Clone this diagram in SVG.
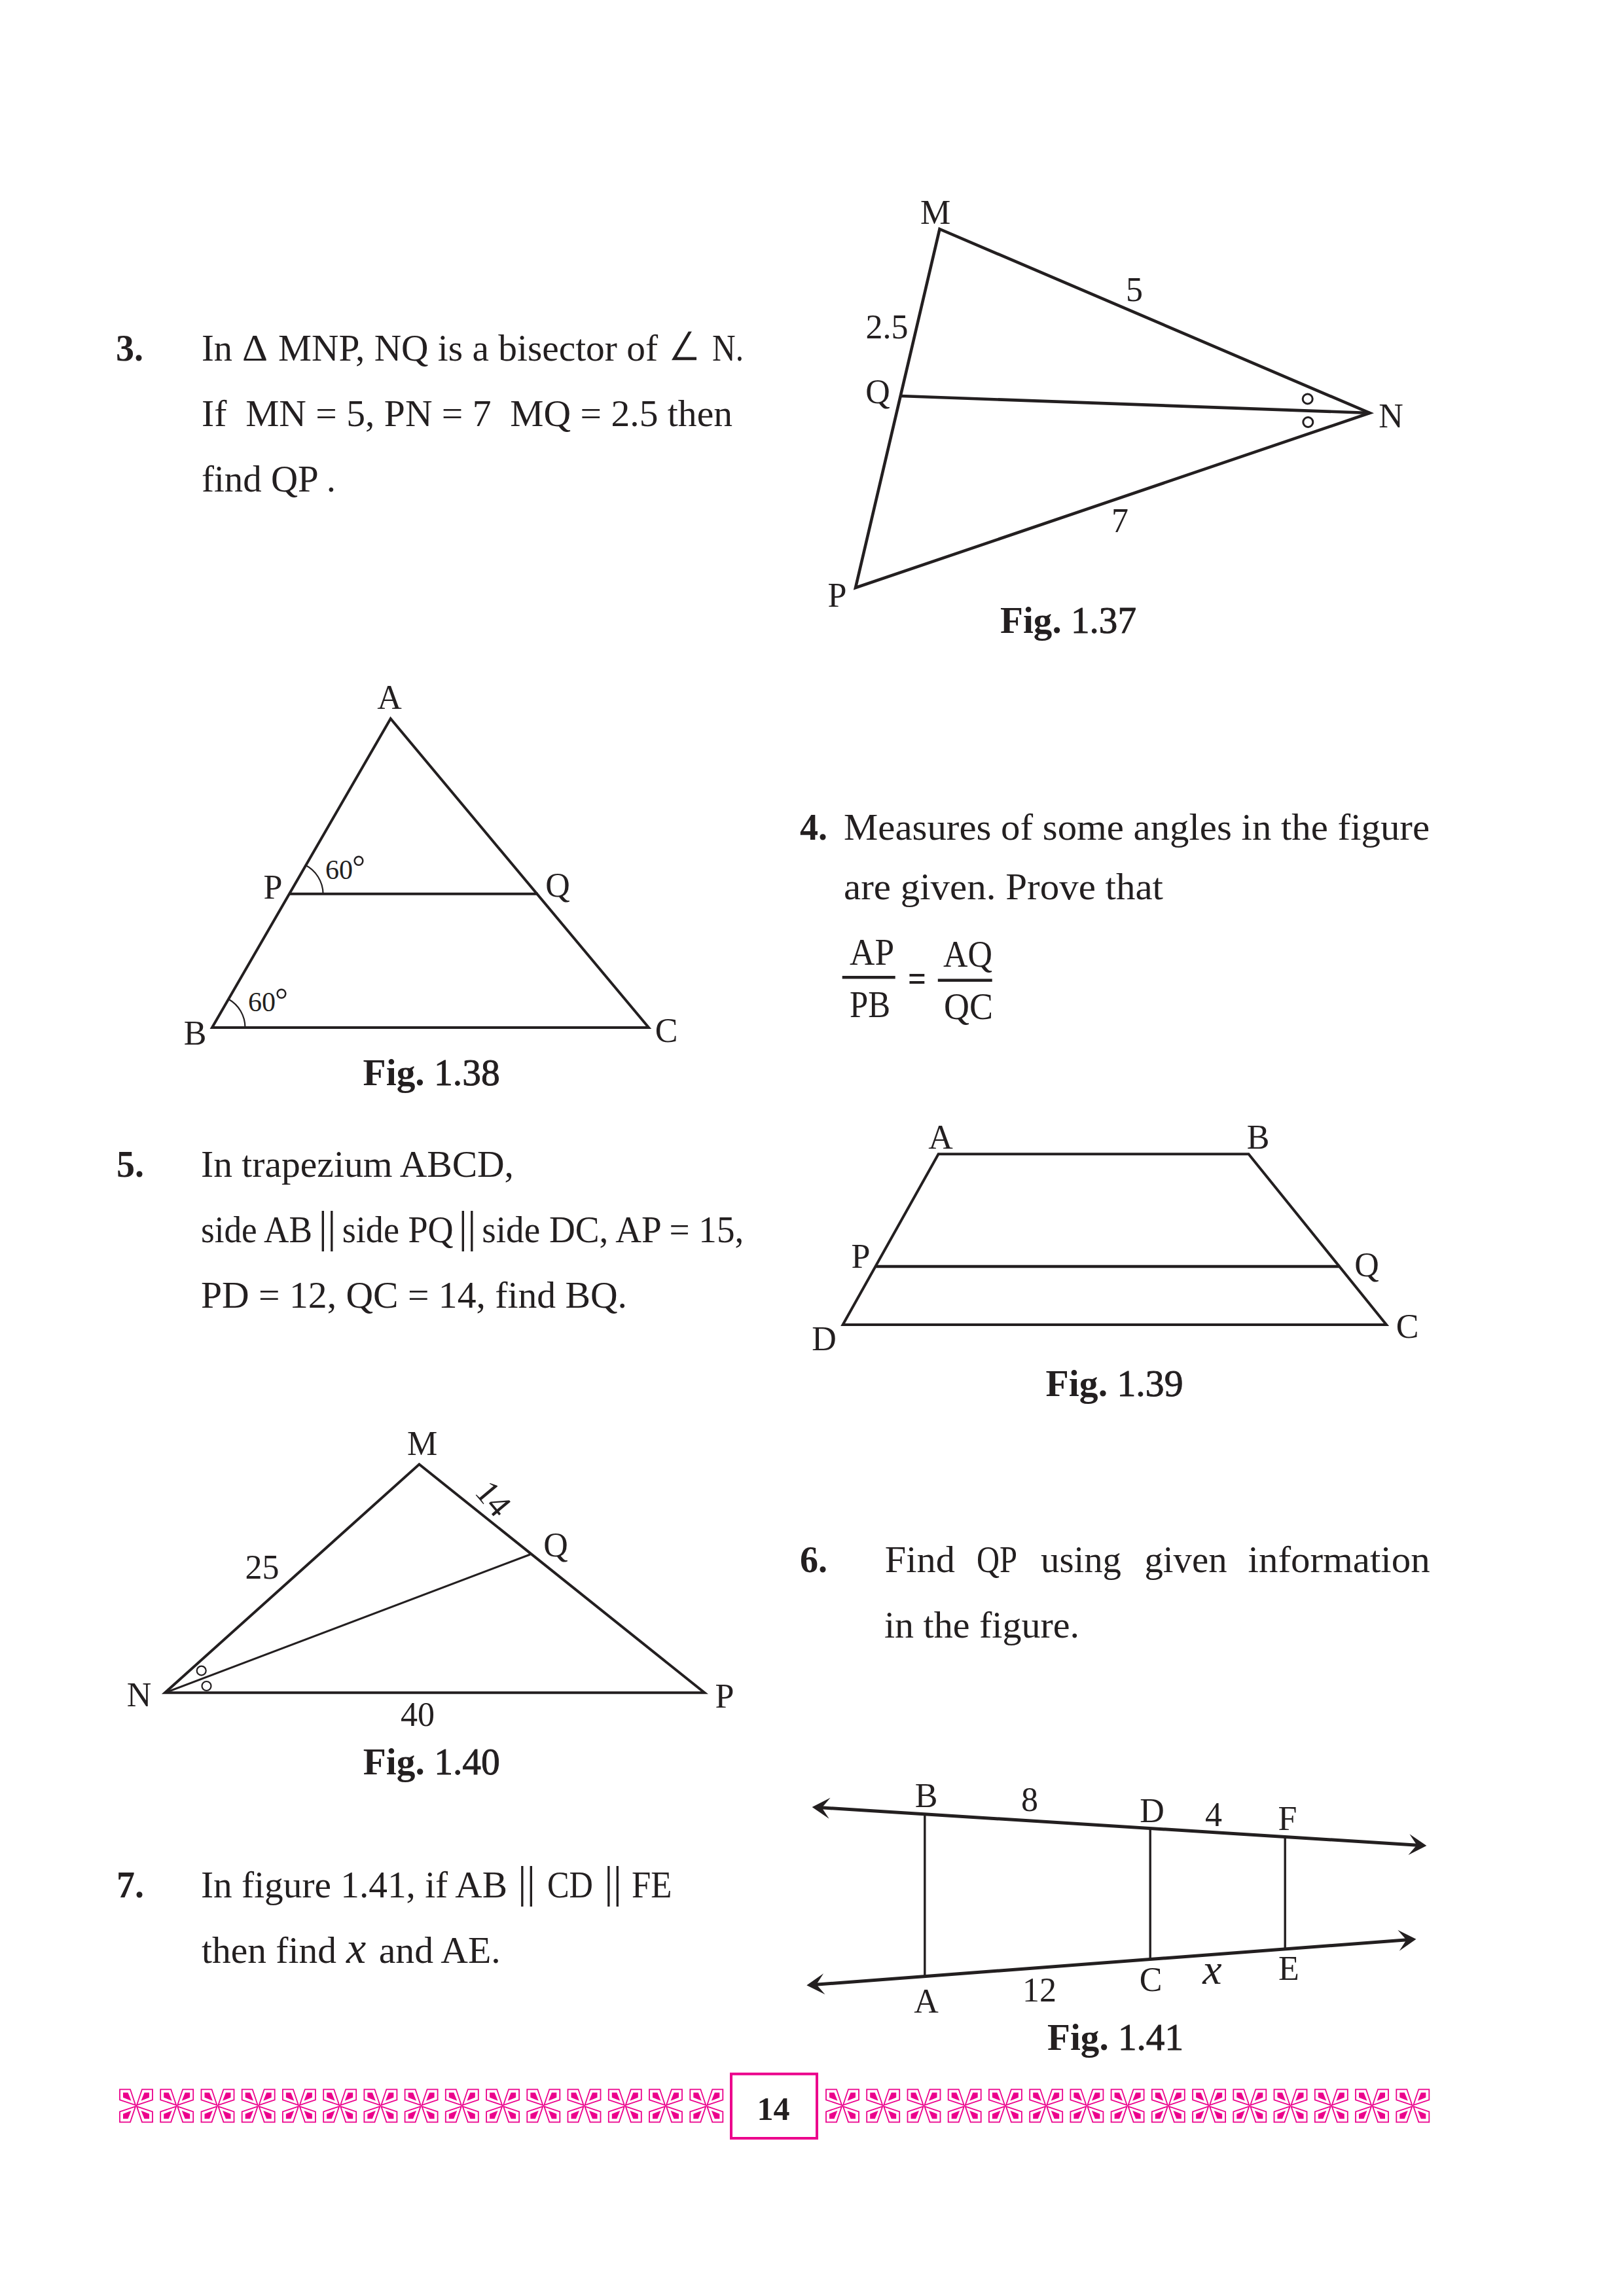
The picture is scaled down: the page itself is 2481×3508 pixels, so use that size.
<svg xmlns="http://www.w3.org/2000/svg" width="2481" height="3508" viewBox="0 0 2481 3508">
<style>
text{font-family:"Liberation Serif","Times New Roman",serif;fill:#231f20;white-space:pre}
.b{font-size:56px}
.num{font-size:56px;font-weight:700}
.bar{font-size:68px}
.l{font-size:52px;text-anchor:middle}
.d{font-size:42px}
.deg{font-size:50px}
.cap{font-size:56px;font-weight:700}
.cap tspan{font-weight:400;stroke:#231f20;stroke-width:.9px}
.i{font-style:italic}
.s{fill:none;stroke:#231f20;stroke-width:4;stroke-linejoin:miter;stroke-linecap:butt}
.t{fill:none;stroke:#231f20;stroke-width:3}
.a{fill:none;stroke:#231f20;stroke-width:2.2}
.o{fill:#fff;stroke:#231f20;stroke-width:3}
.p{fill:#fff;stroke:#ec008c;stroke-width:1.8;stroke-linejoin:miter}
.q{fill:#ec008c}
</style>
<defs>
<marker id="ah" viewBox="-28 -17 29 34" refX="-10" refY="0" markerWidth="29" markerHeight="34" markerUnits="userSpaceOnUse" orient="auto-start-reverse"><path d="M0,0L-27,-16L-15,0L-27,16Z" fill="#231f20"/></marker>
<g id="petal"><polygon class="p" points="-25,-25 -9,-25 -1,-1 -25,-9"/><polygon class="q" points="-20,-20 -12.5,-20 -7.5,-7.5 -20,-12.5"/></g>
<g id="tile"><use href="#petal"/><use href="#petal" transform="scale(-1,1)"/><use href="#petal" transform="scale(1,-1)"/><use href="#petal" transform="scale(-1,-1)"/></g>
</defs>
<rect width="2481" height="3508" fill="#fff"/>

<g id="q3">
<text class="num" x="177" y="551">3.</text>
<text class="b" x="308" y="551" textLength="47" lengthAdjust="spacingAndGlyphs">In</text>
<text class="b" x="370" y="551" textLength="39" lengthAdjust="spacingAndGlyphs">Δ</text>
<text class="b" x="425" y="551" textLength="580" lengthAdjust="spacingAndGlyphs">MNP, NQ is a bisector of</text>
<text class="b" x="1020" y="551" textLength="51" lengthAdjust="spacingAndGlyphs" style="font-family:'DejaVu Sans',sans-serif;font-size:62px;stroke:#fff;stroke-width:1.3px">∠</text>
<text class="b" x="1088" y="551" textLength="48" lengthAdjust="spacingAndGlyphs">N.</text>
<text class="b" x="308" y="651" textLength="811" lengthAdjust="spacingAndGlyphs">If  MN = 5, PN = 7  MQ = 2.5 then</text>
<text class="b" x="308" y="751" textLength="205" lengthAdjust="spacingAndGlyphs">find QP .</text>
</g>

<g id="fig-1-37">
<polygon class="s" style="stroke-width:4.6" points="1435.5,350 2092.6,631 1307,898"/>
<line class="s" style="stroke-width:4.6" x1="1376" y1="605" x2="2092.6" y2="631"/>
<circle class="o" cx="1997.7" cy="609.5" r="7.5"/>
<circle class="o" cx="1998.3" cy="645" r="7.5"/>
<text class="l" x="1429" y="342">M</text>
<text class="l" x="1733" y="460">5</text>
<text class="l" x="1355" y="517">2.5</text>
<text class="l" x="1341" y="616">Q</text>
<text class="l" x="2125" y="653">N</text>
<text class="l" x="1711" y="813">7</text>
<text class="l" x="1279" y="927">P</text>
<text class="cap" x="1528" y="967" textLength="208" lengthAdjust="spacingAndGlyphs">Fig. <tspan>1.37</tspan></text>
</g>

<g id="fig-1-38">
<polygon class="s" points="596.7,1098 324,1570 991,1570"/>
<line class="s" x1="441.8" y1="1365.7" x2="821.9" y2="1365.7"/>
<path class="a" d="M466,1321.6A50,50 0 0 1 493.6,1365.7"/>
<path class="a" d="M349,1526.5A50,50 0 0 1 374.5,1570"/>
<text class="l" x="595" y="1083">A</text>
<text class="l" x="417" y="1373">P</text>
<text class="l" x="852" y="1370">Q</text>
<text class="l" x="298" y="1596">B</text>
<text class="l" x="1018" y="1592">C</text>
<text class="d" x="497" y="1343">60</text>
<text class="deg" x="538" y="1341">°</text>
<text class="d" x="379" y="1545">60</text>
<text class="deg" x="420" y="1544">°</text>
<text class="cap" x="554.6" y="1658" textLength="209" lengthAdjust="spacingAndGlyphs">Fig. <tspan>1.38</tspan></text>
</g>

<g id="q4">
<text class="num" x="1222" y="1283">4.</text>
<text class="b" x="1289" y="1283" textLength="895" lengthAdjust="spacingAndGlyphs">Measures of some angles in the figure</text>
<text class="b" x="1289" y="1374" textLength="488" lengthAdjust="spacingAndGlyphs">are given. Prove that</text>
<text class="b" x="1298" y="1473.5" textLength="68" lengthAdjust="spacingAndGlyphs">AP</text>
<text class="b" x="1298" y="1553.5" textLength="62" lengthAdjust="spacingAndGlyphs">PB</text>
<text class="b" x="1441" y="1477" textLength="75" lengthAdjust="spacingAndGlyphs">AQ</text>
<text class="b" x="1442" y="1556.5" textLength="75" lengthAdjust="spacingAndGlyphs">QC</text>
<text class="num" x="1387" y="1514" textLength="28" lengthAdjust="spacingAndGlyphs">=</text>
<line class="s" style="stroke-width:4.5" x1="1286.7" y1="1493.3" x2="1367.7" y2="1493.3"/>
<line class="s" style="stroke-width:4.5" x1="1432.8" y1="1497.7" x2="1515.7" y2="1497.7"/>
</g>

<g id="q5">
<text class="num" x="178" y="1798">5.</text>
<text class="b" x="307" y="1798" textLength="478" lengthAdjust="spacingAndGlyphs">In trapezium ABCD,</text>
<text class="b" x="307" y="1898" textLength="170" lengthAdjust="spacingAndGlyphs">side AB</text>
<text class="bar" x="486.5" y="1898">||</text>
<text class="b" x="522.7" y="1898" textLength="170" lengthAdjust="spacingAndGlyphs">side PQ</text>
<text class="bar" x="700.5" y="1898">||</text>
<text class="b" x="736.3" y="1898" textLength="400" lengthAdjust="spacingAndGlyphs">side DC, AP = 15,</text>
<text class="b" x="307" y="1998" textLength="651" lengthAdjust="spacingAndGlyphs">PD = 12, QC = 14, find BQ.</text>
</g>

<g id="fig-1-39">
<polygon class="s" points="1433.6,1763.3 1907.5,1763.3 2118,2024 1287.6,2024"/>
<line class="s" style="stroke-width:4.6" x1="1338" y1="1935" x2="2047.2" y2="1935"/>
<text class="l" x="1437" y="1755">A</text>
<text class="l" x="1922" y="1755">B</text>
<text class="l" x="1315" y="1937">P</text>
<text class="l" x="2088" y="1950">Q</text>
<text class="l" x="2150" y="2044">C</text>
<text class="l" x="1259" y="2063">D</text>
<text class="cap" x="1597.5" y="2133" textLength="210" lengthAdjust="spacingAndGlyphs">Fig. <tspan>1.39</tspan></text>
</g>

<g id="fig-1-40">
<polygon class="s" points="640.4,2237.3 1076.3,2586.3 252,2586.3"/>
<line class="t" x1="252" y1="2586.3" x2="810" y2="2375"/>
<circle class="a" cx="307.7" cy="2552.6" r="7"/>
<circle class="a" cx="315.5" cy="2576" r="7"/>
<text class="l" x="645" y="2223">M</text>
<text class="l" transform="translate(753.5,2289.7) rotate(50)" y="17">14</text>
<text class="l" x="849" y="2378">Q</text>
<text class="l" x="400.6" y="2412">25</text>
<text class="l" x="212.5" y="2607">N</text>
<text class="l" x="1107" y="2609">P</text>
<text class="l" x="638" y="2637">40</text>
<text class="cap" x="554.7" y="2711" textLength="209" lengthAdjust="spacingAndGlyphs">Fig. <tspan>1.40</tspan></text>
</g>

<g id="q6">
<text class="num" x="1222" y="2402">6.</text>
<text class="b" x="1351.8" y="2402" textLength="107" lengthAdjust="spacingAndGlyphs">Find</text>
<text class="b" x="1492" y="2402" textLength="62" lengthAdjust="spacingAndGlyphs">QP</text>
<text class="b" x="1590" y="2402" textLength="123" lengthAdjust="spacingAndGlyphs">using</text>
<text class="b" x="1748.5" y="2402" textLength="126" lengthAdjust="spacingAndGlyphs">given</text>
<text class="b" x="1906.6" y="2402" textLength="278" lengthAdjust="spacingAndGlyphs">information</text>
<text class="b" x="1351" y="2502" textLength="298" lengthAdjust="spacingAndGlyphs">in the figure.</text>
</g>

<g id="q7">
<text class="num" x="178" y="2899">7.</text>
<text class="b" x="307" y="2899" textLength="468" lengthAdjust="spacingAndGlyphs">In figure 1.41, if AB</text>
<text class="bar" x="791" y="2899">||</text>
<text class="b" x="836" y="2899" textLength="70" lengthAdjust="spacingAndGlyphs">CD</text>
<text class="bar" x="923" y="2899">||</text>
<text class="b" x="965" y="2899" textLength="61.5" lengthAdjust="spacingAndGlyphs">FE</text>
<text class="b" x="308" y="2999" textLength="206" lengthAdjust="spacingAndGlyphs">then find</text>
<text class="b i" x="529" y="2999" style="font-size:68px">x</text>
<text class="b" x="578.7" y="2999" textLength="186" lengthAdjust="spacingAndGlyphs">and AE.</text>
</g>

<g id="fig-1-41">
<g id="connectors">
<line class="s" style="stroke-width:5" x1="1250.6" y1="2761.6" x2="2169.4" y2="2819.4" marker-start="url(#ah)" marker-end="url(#ah)"/>
<line class="s" style="stroke-width:5" x1="1242.3" y1="3032.5" x2="2153.5" y2="2963.5" marker-start="url(#ah)" marker-end="url(#ah)"/>
<line class="s" style="stroke-width:3.4" x1="1412.8" y1="2771.7" x2="1412.8" y2="3019.3"/>
<line class="s" style="stroke-width:3.4" x1="1757.2" y1="2794" x2="1757.2" y2="2992.7"/>
<line class="s" style="stroke-width:3.4" x1="1963.2" y1="2807.3" x2="1963.2" y2="2976.7"/>
</g>
<text class="l" x="1415" y="2761">B</text>
<text class="l" x="1573" y="2767">8</text>
<text class="l" x="1760" y="2784">D</text>
<text class="l" x="1854" y="2790">4</text>
<text class="l" x="1967" y="2796">F</text>
<text class="l" x="1415" y="3075">A</text>
<text class="l" x="1588" y="3058">12</text>
<text class="l" x="1758" y="3042">C</text>
<text class="l i" x="1852" y="3031" style="font-size:66px">x</text>
<text class="l" x="1969" y="3025">E</text>
<text class="cap" x="1600" y="3132" textLength="208" lengthAdjust="spacingAndGlyphs">Fig. <tspan>1.41</tspan></text>
</g>

<g id="footer">
<use href="#tile" x="208" y="3217.3"/><use href="#tile" x="270.2" y="3217.3"/><use href="#tile" x="332.5" y="3217.3"/><use href="#tile" x="394.7" y="3217.3"/><use href="#tile" x="456.9" y="3217.3"/><use href="#tile" x="519.2" y="3217.3"/><use href="#tile" x="581.4" y="3217.3"/><use href="#tile" x="643.6" y="3217.3"/><use href="#tile" x="705.8" y="3217.3"/><use href="#tile" x="768.1" y="3217.3"/><use href="#tile" x="830.3" y="3217.3"/><use href="#tile" x="892.5" y="3217.3"/><use href="#tile" x="954.8" y="3217.3"/><use href="#tile" x="1017" y="3217.3"/><use href="#tile" x="1079.3" y="3217.3"/>
<use href="#tile" x="1287" y="3217.3"/><use href="#tile" x="1349.2" y="3217.3"/><use href="#tile" x="1411.5" y="3217.3"/><use href="#tile" x="1473.7" y="3217.3"/><use href="#tile" x="1535.9" y="3217.3"/><use href="#tile" x="1598.2" y="3217.3"/><use href="#tile" x="1660.4" y="3217.3"/><use href="#tile" x="1722.6" y="3217.3"/><use href="#tile" x="1784.8" y="3217.3"/><use href="#tile" x="1847.1" y="3217.3"/><use href="#tile" x="1909.3" y="3217.3"/><use href="#tile" x="1971.5" y="3217.3"/><use href="#tile" x="2033.8" y="3217.3"/><use href="#tile" x="2096" y="3217.3"/><use href="#tile" x="2158.3" y="3217.3"/>
<rect x="1117" y="3168.7" width="131" height="98.3" fill="#fff" stroke="#ec008c" stroke-width="4"/>
<text class="num" x="1181.5" y="3239" text-anchor="middle" style="font-size:50px">14</text>
</g>
</svg>
